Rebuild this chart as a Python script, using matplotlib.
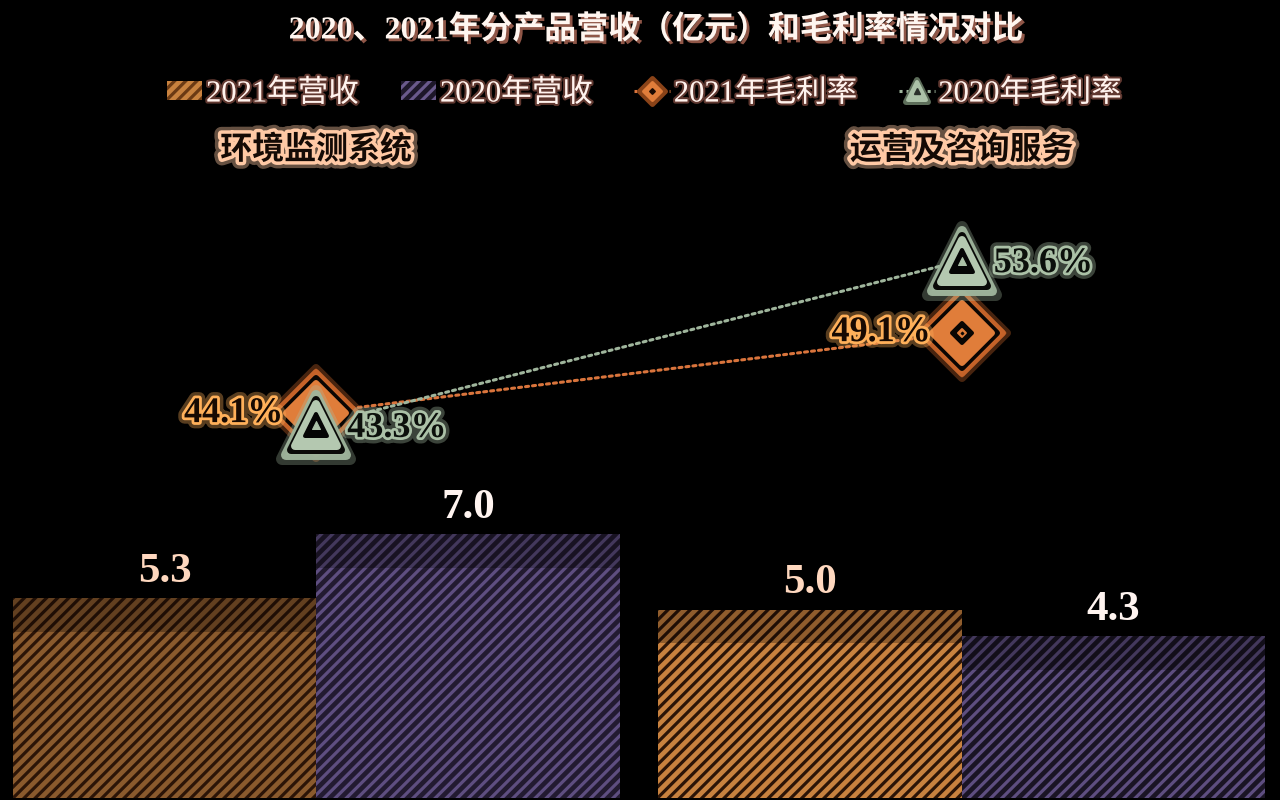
import matplotlib
matplotlib.use("Agg")
import matplotlib.pyplot as plt
import matplotlib.patheffects as pe
from matplotlib.markers import MarkerStyle
from matplotlib.patches import Patch, Rectangle
from matplotlib.lines import Line2D
import numpy as np

# data
categories = ["环境监测系统", "运营及咨询服务"]
revenue_2021 = [5.3, 5.0]
revenue_2020 = [7.0, 4.3]
margin_2021 = [44.1, 49.1]
margin_2020 = [43.3, 53.6]
series_names = ["2021年营收", "2020年营收", "2021年毛利率", "2020年毛利率"]
title = "2020、2021年分产品营收（亿元）和毛利率情况对比"

PX = 72 / 100  # points per pixel at dpi 100
SERIF_CJK = ["Liberation Serif", "Noto Sans CJK SC"]

ORANGE = "#e07d3a"
SAGE = "#abc1a7"

plt.rcParams["hatch.linewidth"] = 2.3


def stack_marker(ax, xs, ys, shape, layers, z):
    # layers: (marker size px, edge width px, colour, alpha)
    for i, (size, ew, col, alpha) in enumerate(layers):
        ax.plot(xs, ys, ls="none", marker=MarkerStyle(shape, joinstyle="round"),
                ms=size * PX, mew=ew * PX, mfc=col, mec=col, alpha=alpha,
                zorder=z + i * 0.01)


def glow(col, wide=9, narrow=4, a=0.35):
    return [pe.Stroke(linewidth=wide, foreground=col, alpha=a),
            pe.Stroke(linewidth=narrow, foreground=col),
            pe.Normal()]


fig = plt.figure(figsize=(12.8, 8), dpi=100, facecolor="black")
ax = fig.add_axes([0, 0.0025, 1, 0.9975])
ax.set_facecolor("black")
x = np.arange(len(categories))
w = 0.47

bars21 = ax.bar(x - w / 2, revenue_2021, w, color=["#8a5a2d", "#c8823f"],
                edgecolor="#2b1407", linewidth=0, hatch="///", zorder=2)
bars20 = ax.bar(x + w / 2, revenue_2020, w, color=["#221a30", "#1a1424"],
                edgecolor="#5e4e80", linewidth=0, hatch="///", zorder=2)

# darker band at the top of each bar
for b in list(bars21) + list(bars20):
    ax.add_patch(Rectangle((b.get_x(), b.get_height() - 0.9), b.get_width(), 0.9,
                           color="black", alpha=0.28, lw=0, zorder=3))

for bars, col in [(bars21, "#ffd8bf"), (bars20, "#fff4f0")]:
    for b in bars:
        v = b.get_height()
        ax.annotate(f"{v:.1f}", (b.get_x() + b.get_width() / 2, v), xytext=(0, 19),
                    textcoords="offset points", ha="center", va="center",
                    fontsize=31, fontweight="bold", family="Liberation Serif", color=col)

ax.set_xlim(-0.49, 1.493)
ax.set_ylim(0, 21.17)
ax.axis("off")

ax2 = ax.twinx()
ax2.set_ylim(20, 69.9)
ax2.axis("off")

ax2.plot(x, margin_2021, ls=(0, (1, 1.3)), lw=2.2, color="#d9743c", zorder=3,
         dash_capstyle="round")
ax2.plot(x, margin_2020, ls=(0, (1, 1.3)), lw=2.2, color="#9fb59c", zorder=3,
         dash_capstyle="round")

dia_layers = [(64, 8, "#d06a2c", 0.35), (58, 6, "#c9652a", 0.95), (49, 6, "#0a0603", 1),
              (42, 6, ORANGE, 1), (14, 4, "#0a0603", 1), (6, 2, ORANGE, 1), (2, 1, "#0a0603", 1)]
tri_layers = [(68, 12, SAGE, 0.3), (60, 10, "#9fb59c", 0.95), (50, 8, "#0a0a08", 1),
              (42, 8, "#b4c8b0", 1), (22, 4, "#050505", 1), (8, 1, SAGE, 1)]
stack_marker(ax2, x, margin_2021, "D", dia_layers, 4)
stack_marker(ax2, x, margin_2020, "^", tri_layers, 5)

# percentage labels
lab_style = dict(textcoords="offset points", va="center", fontsize=26, fontweight="bold",
                 family="Liberation Serif", zorder=10)
ax2.annotate(f"{margin_2021[0]}%", (x[0], margin_2021[0]), xytext=(-33 * PX, -1 * PX),
             ha="right", color="#180a02", path_effects=glow("#ffb05a"), **lab_style)
ax2.annotate(f"{margin_2021[1]}%", (x[1], margin_2021[1]), xytext=(-31 * PX, 0),
             ha="right", color="#180a02", path_effects=glow("#ffb05a"), **lab_style)
ax2.annotate(f"{margin_2020[0]}%", (x[0], margin_2020[0]), xytext=(31 * PX, -3 * PX),
             ha="left", color="#0c100c", path_effects=glow(SAGE), **lab_style)
ax2.annotate(f"{margin_2020[1]}%", (x[1], margin_2020[1]), xytext=(32 * PX, -3 * PX),
             ha="left", color="#0c100c", path_effects=glow(SAGE), **lab_style)

# category names
for xi, name in zip(x, categories):
    ax2.text(xi, 0.812, name, transform=ax2.get_xaxis_transform(), ha="center", va="center",
             fontsize=23, fontweight="bold", family="Noto Sans CJK SC", color="#140a05",
             path_effects=glow("#ffc9a5", wide=10, narrow=5, a=0.4), zorder=10)

# title
fig.text(0.513, 0.9625, title, ha="center", va="center", fontsize=23, fontweight="bold",
         family=SERIF_CJK, color="#fff6f0",
         path_effects=[pe.SimplePatchShadow(offset=(2, -2), shadow_rgbFace="#a06050", alpha=0.9),
                       pe.Normal()])

# legend
h_bar21 = Patch(facecolor="#c8823f", edgecolor="#6b3a14", linewidth=0, hatch="///")
h_bar20 = Patch(facecolor="#1d1729", edgecolor="#6a5a8c", linewidth=0, hatch="///")
h_dia = (Line2D([], [], ls=(0, (1, 1.3)), lw=2.2, color="#d9743c"),
         Line2D([], [], ls="none", marker=MarkerStyle("D", joinstyle="round"), ms=18 * PX,
                mew=5 * PX, mfc="#8a4318", mec="#8a4318"),
         Line2D([], [], ls="none", marker=MarkerStyle("D", joinstyle="round"), ms=13 * PX,
                mew=3 * PX, mfc=ORANGE, mec=ORANGE),
         Line2D([], [], ls="none", marker="D", ms=4 * PX, mfc="#1a0a02", mec="#1a0a02"))
h_tri = (Line2D([], [], ls=(0, (1, 1.3)), lw=2.2, color="#9fb59c"),
         Line2D([], [], ls="none", marker=MarkerStyle("^", joinstyle="round"), ms=23 * PX,
                mew=6 * PX, mfc="#5d6e5a", mec="#5d6e5a"),
         Line2D([], [], ls="none", marker=MarkerStyle("^", joinstyle="round"), ms=18 * PX,
                mew=4 * PX, mfc=SAGE, mec=SAGE),
         Line2D([], [], ls="none", marker="^", ms=6 * PX, mfc="#2a302a", mec="#2a302a"))
leg = fig.legend([h_bar21, h_bar20, h_dia, h_tri], series_names, loc="center",
                 bbox_to_anchor=(0.503, 0.8825), ncol=4, frameon=False,
                 prop={"family": SERIF_CJK, "size": 22}, handlelength=1.17,
                 handleheight=0.55, handletextpad=0.12, columnspacing=1.38, numpoints=1)
for t in leg.get_texts():
    t.set_color("#fff3ee")
    t.set_path_effects([pe.Stroke(linewidth=3, foreground="#c07060", alpha=0.5), pe.Normal()])

fig.savefig("out.png", dpi=100, facecolor="black")
